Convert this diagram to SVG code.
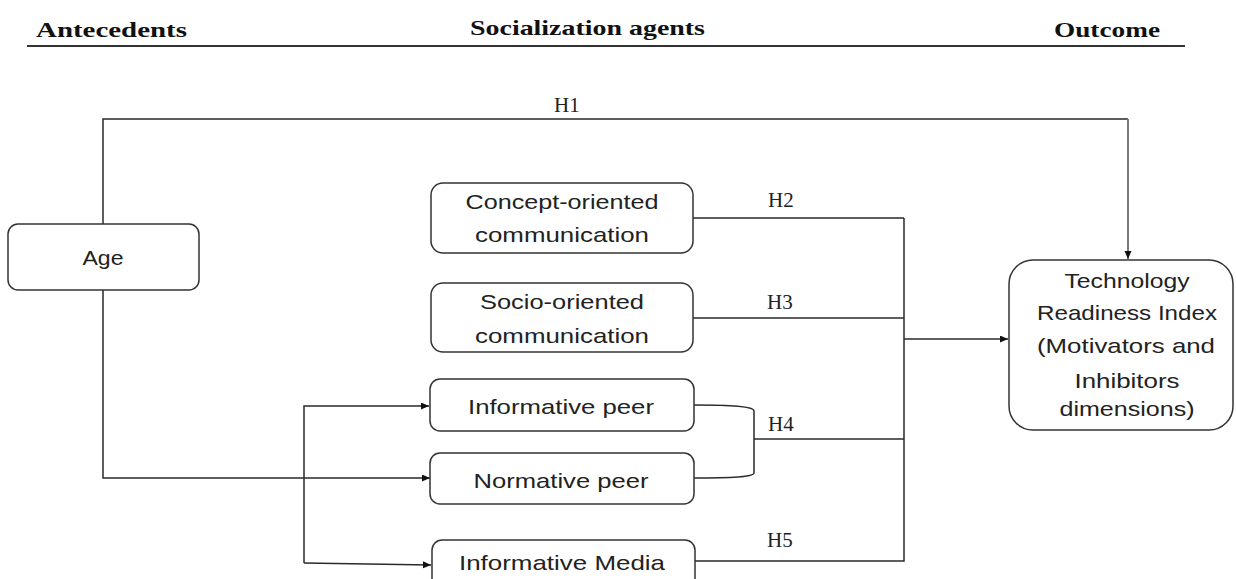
<svg xmlns="http://www.w3.org/2000/svg" width="1236" height="579" viewBox="0 0 1236 579">
<defs>
<marker id="arr" markerWidth="9" markerHeight="8" refX="8" refY="3.5" orient="auto" markerUnits="userSpaceOnUse">
<path d="M0,0 L8,3.5 L0,7 z" fill="#111"/>
</marker>
<style>
.hdr{font-family:"Liberation Serif","Times New Roman",serif;font-weight:bold;font-size:22px;fill:#111}
.box{fill:#fff;stroke:#333;stroke-width:1.5}
.t{font-family:"Liberation Sans",Arial,sans-serif;font-size:21px;fill:#222;text-anchor:middle}
.h{font-family:"Liberation Serif","Times New Roman",serif;font-size:21px;fill:#222}
.c{fill:none;stroke:#2a2a2a;stroke-width:1.5}
</style>
</defs>
<rect width="1236" height="579" fill="#fff"/>
<g id="headers">
<text class="hdr" x="36" y="37" textLength="151" lengthAdjust="spacingAndGlyphs">Antecedents</text>
<text class="hdr" x="470" y="35" textLength="235" lengthAdjust="spacingAndGlyphs">Socialization agents</text>
<text class="hdr" x="1054" y="37" textLength="106" lengthAdjust="spacingAndGlyphs">Outcome</text>
<line x1="27" y1="46" x2="1185" y2="46" stroke="#333" stroke-width="2"/>
</g>
<g id="connectors">
<path class="c" d="M103,224 V119 H1128"/>
<path d="M1128,119 V259" fill="none" stroke="#7a7a7a" stroke-width="2" marker-end="url(#arr)"/>
<path class="c" d="M103,290 V478 H430" marker-end="url(#arr)"/>
<path class="c" d="M304,563 V406 H429" marker-end="url(#arr)"/>
<path class="c" d="M304,563 L431,565" marker-end="url(#arr)"/>
<path class="c" d="M693,218 H904"/>
<path class="c" d="M693,318 H904"/>
<path class="c" d="M904,218 V561 H695"/>
<path class="c" d="M904,339 H1008" marker-end="url(#arr)"/>
<path class="c" d="M694,405 C730,405 754,406 754,411 V473 C754,477 730,478 694,478"/>
<path class="c" d="M754,439 H904"/>
<text class="h" x="554" y="112">H1</text>
<text class="h" x="768" y="207">H2</text>
<text class="h" x="767" y="309">H3</text>
<text class="h" x="768" y="431">H4</text>
<text class="h" x="767" y="547">H5</text>
</g>
<g id="age">
<rect class="box" x="8" y="224" width="191" height="66" rx="10"/>
<text class="t" x="103" y="265" textLength="41" lengthAdjust="spacingAndGlyphs">Age</text>
</g>
<g id="concept">
<rect class="box" x="431" y="183" width="262" height="70" rx="12"/>
<text class="t" x="562" y="209" textLength="193" lengthAdjust="spacingAndGlyphs">Concept-oriented</text>
<text class="t" x="562" y="242" textLength="174" lengthAdjust="spacingAndGlyphs">communication</text>
</g>
<g id="socio">
<rect class="box" x="431" y="283" width="262" height="69" rx="12"/>
<text class="t" x="562" y="309" textLength="164" lengthAdjust="spacingAndGlyphs">Socio-oriented</text>
<text class="t" x="562" y="343" textLength="174" lengthAdjust="spacingAndGlyphs">communication</text>
</g>
<g id="informative-peer">
<rect class="box" x="430" y="379" width="264" height="52" rx="10"/>
<text class="t" x="561" y="414" textLength="186" lengthAdjust="spacingAndGlyphs">Informative peer</text>
</g>
<g id="normative-peer">
<rect class="box" x="430" y="453" width="264" height="51" rx="10"/>
<text class="t" x="561" y="488" textLength="175" lengthAdjust="spacingAndGlyphs">Normative peer</text>
</g>
<g id="informative-media">
<rect class="box" x="432" y="540" width="263" height="52" rx="10"/>
<text class="t" x="562" y="570" textLength="206" lengthAdjust="spacingAndGlyphs">Informative Media</text>
</g>
<g id="tri">
<rect class="box" x="1009" y="260" width="224" height="170" rx="24"/>
<text class="t" x="1127" y="288" textLength="125" lengthAdjust="spacingAndGlyphs">Technology</text>
<text class="t" x="1127" y="320" textLength="180" lengthAdjust="spacingAndGlyphs">Readiness Index</text>
<text class="t" x="1126" y="353" textLength="178" lengthAdjust="spacingAndGlyphs">(Motivators and</text>
<text class="t" x="1127" y="388" textLength="105" lengthAdjust="spacingAndGlyphs">Inhibitors</text>
<text class="t" x="1127" y="416" textLength="135" lengthAdjust="spacingAndGlyphs">dimensions)</text>
</g>
</svg>
